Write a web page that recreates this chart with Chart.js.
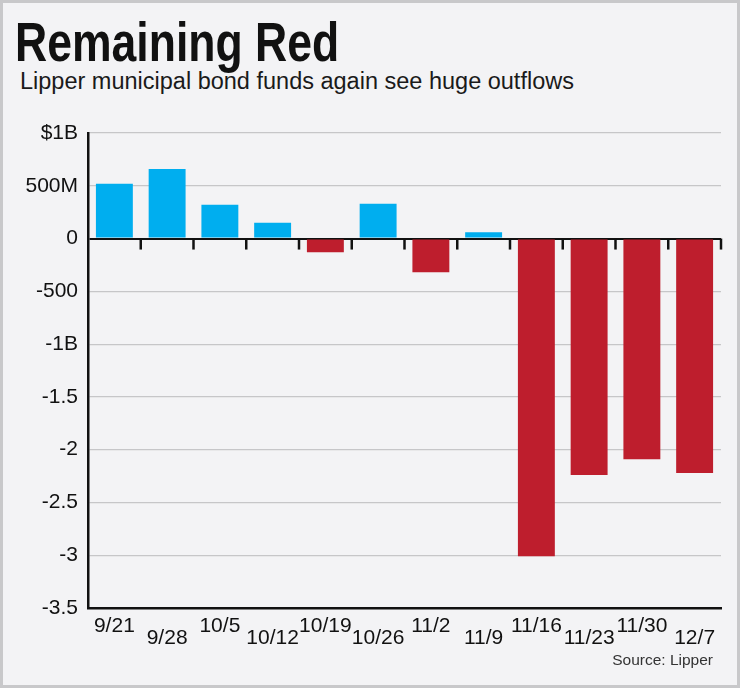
<!DOCTYPE html>
<html lang="en">
<head>
    <meta charset="UTF-8">
    <title>Remaining Red</title>
    <script src="https://cdn.jsdelivr.net/npm/chart.js"></script>
    <style>
        body {
            margin: 0;
            background: #f3f3f5;
        }
        .frame {
            position: absolute;
            left: 0;
            top: 0;
            width: 740px;
            height: 688px;
            box-sizing: border-box;
            border: 3px solid #c8c8ca;
            background: #f3f3f5;
        }
        .title {
            position: absolute;
            left: 15px;
            top: 15px;
            margin: 0;
            font-family: "Liberation Sans", Arial, sans-serif;
            font-weight: bold;
            font-size: 55px;
            line-height: 55px;
            color: #111;
            white-space: nowrap;
            transform: scaleX(0.81);
            transform-origin: 0 0;
        }
        .subtitle {
            position: absolute;
            left: 20px;
            top: 70px;
            margin: 0;
            font-family: "Liberation Sans", Arial, sans-serif;
            font-size: 23.5px;
            line-height: 23px;
            color: #1a1a1a;
            white-space: nowrap;
        }
        .source {
            position: absolute;
            right: 27px;
            top: 652px;
            font-family: "Liberation Sans", Arial, sans-serif;
            font-size: 15.5px;
            line-height: 16px;
            color: #333;
        }
        #chart {
            position: absolute;
            left: 0;
            top: 0;
        }
    </style>
</head>
<body>
    <div class="frame"></div>
    <h1 class="title">Remaining Red</h1>
    <p class="subtitle">Lipper municipal bond funds again see huge outflows</p>
    <canvas id="chart" width="740" height="688"></canvas>
    <div class="source">Source: Lipper</div>

    <script>
        // weekly net flows, in billions of dollars
        const weeks = ['9/21', '9/28', '10/5', '10/12', '10/19', '10/26', '11/2', '11/9', '11/16', '11/23', '11/30', '12/7'];
        const flows = [0.52, 0.66, 0.32, 0.15, -0.13, 0.33, -0.32, 0.06, -3.01, -2.24, -2.09, -2.22];
        const yTickValues = [1, 0.5, 0, -0.5, -1, -1.5, -2, -2.5, -3, -3.5];
        const yTickLabels = ['$1B', '500M', '0', '-500', '-1B', '-1.5', '-2', '-2.5', '-3', '-3.5'];

        const BLUE = '#00aeef';
        const RED = '#be1e2d';

        Chart.defaults.font.family = "'Liberation Sans', Arial, sans-serif";
        Chart.defaults.color = '#111';

        // small down ticks on the zero line, between the weeks
        const zeroTicks = {
            id: 'zeroTicks',
            afterDatasetsDraw(chart) {
                const x = chart.scales.x;
                const y0 = chart.scales.y.getPixelForValue(0);
                const c = chart.ctx;
                c.save();
                c.strokeStyle = '#111';
                c.lineWidth = 2.5;
                for (let i = 0; i < weeks.length; i++) {
                    const px = x.getPixelForValue(i + 0.5);
                    c.beginPath();
                    c.moveTo(px, y0);
                    c.lineTo(px, y0 + 11);
                    c.stroke();
                }
                c.restore();
            }
        };

        new Chart(document.getElementById('chart'), {
            type: 'bar',
            data: {
                labels: weeks,
                datasets: [{
                    data: flows,
                    backgroundColor: ctx => ctx.raw < 0 ? RED : BLUE,
                    borderWidth: 0,
                    barPercentage: 0.7,
                    categoryPercentage: 1
                }]
            },
            options: {
                responsive: false,
                animation: false,
                layout: {
                    padding: { top: 133, right: 19, bottom: 30, left: 0 }
                },
                plugins: {
                    legend: { display: false },
                    tooltip: { enabled: false }
                },
                scales: {
                    x: {
                        grid: { display: false, drawTicks: false },
                        border: { display: true, color: '#111', width: 2.5 },
                        afterFit: s => { s.height = 50; },
                        ticks: {
                            padding: 8,
                            maxRotation: 0,
                            autoSkip: false,
                            font: ctx => ({ size: 21, lineHeight: ctx.index % 2 ? '15px' : '20px' }),
                            callback: (v, i) => i % 2 ? ['', weeks[i]] : weeks[i]
                        }
                    },
                    y: {
                        min: -3.5,
                        max: 1,
                        afterFit: s => { s.width = 88; },
                        grid: {
                            drawTicks: false,
                            color: ctx => Math.abs(ctx.tick.value) < 1e-9 ? '#111' : '#c6c6c8',
                            lineWidth: ctx => Math.abs(ctx.tick.value) < 1e-9 ? 2 : 1.2
                        },
                        border: { color: '#111', width: 2.5 },
                        ticks: {
                            stepSize: 0.5,
                            padding: 10,
                            font: { size: 21 },
                            callback: v => {
                                const i = yTickValues.findIndex(t => Math.abs(t - v) < 1e-6);
                                return i < 0 ? '' : yTickLabels[i];
                            }
                        }
                    }
                }
            },
            plugins: [zeroTicks]
        });
    </script>
</body>
</html>
